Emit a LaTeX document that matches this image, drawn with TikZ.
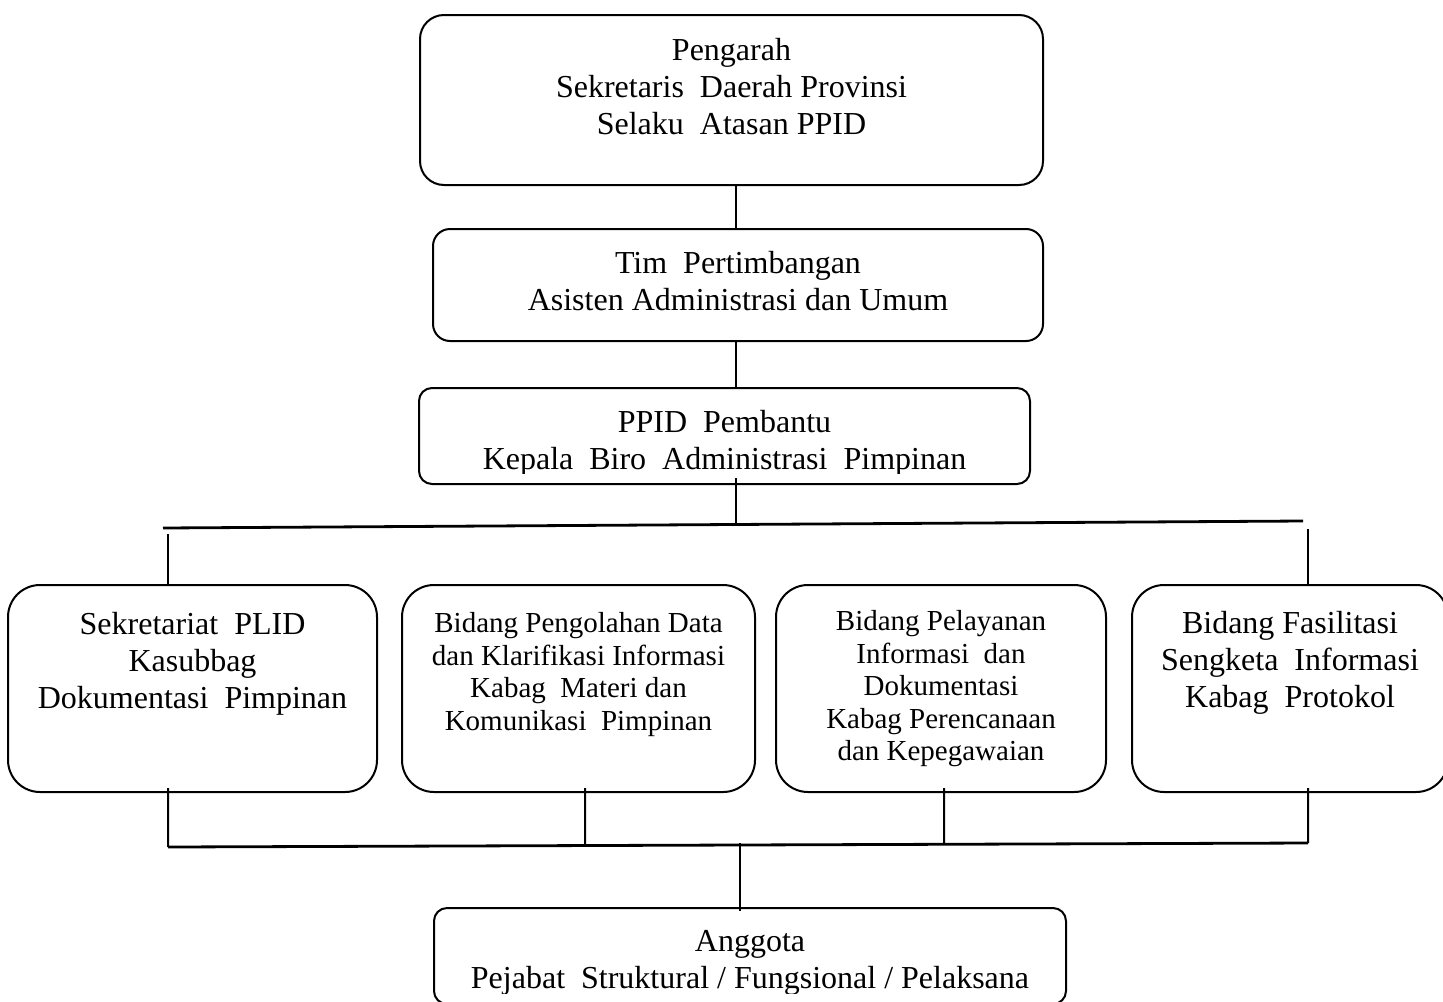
\documentclass[tikz,border=0pt]{standalone}
\usepackage{fontspec}
\setmainfont{Liberation Serif}
\usetikzlibrary{calc}

\begin{document}
\begin{tikzpicture}[x=0.5pt, y=-0.5pt,
        box/.style={draw=black, line width=1pt, inner sep=0pt},
        txt/.style={align=center, inner sep=0pt, anchor=north, font=\fontsize{16}{18.5}\selectfont},
        small/.style={font=\fontsize{14.5}{16.3}\selectfont},
        link/.style={black, line width=1pt},
        bus/.style={black, line width=1.4pt}]
        \useasboundingbox (0,0) rectangle (1443,1001);
        \node[box, minimum width=311.5pt, minimum height=85pt, rounded corners=12pt] (pengarah) at (731.5,100) {};
        \node[box, minimum width=305pt, minimum height=56pt, rounded corners=8.5pt] (tim) at (738,285) {};
        \node[box, minimum width=305.5pt, minimum height=48pt, rounded corners=6.5pt] (ppid) at (724.5,436) {};
        \node[box, minimum width=184.5pt, minimum height=103.5pt, rounded corners=16pt] (sek) at (192.5,688.5) {};
        \node[box, minimum width=176.5pt, minimum height=103.5pt, rounded corners=16pt] (olah) at (578.5,688.5) {};
        \node[box, minimum width=165pt, minimum height=103.5pt, rounded corners=16pt] (layan) at (941,688.5) {};
        \node[box, minimum width=158pt, minimum height=103.5pt, rounded corners=16pt] (fas) at (1290,688.5) {};
        \node[box, minimum width=316pt, minimum height=48pt, rounded corners=6.5pt] (anggota) at (750,956) {};
        \node[txt] (pengarahT) at (731.5,38) {Pengarah\\Sekretaris~ Daerah Provinsi\\Selaku~ Atasan PPID};
        \node[txt] (timT) at (738,251) {Tim~ Pertimbangan\\Asisten Administrasi dan Umum};
        \begin{scope}
            \clip (ppid.north west) rectangle ($(ppid.south east)+(0,-12)$);
            \node[txt] (ppidT) at (724.5,410) {PPID~ Pembantu\\Kepala~ Biro~ Administrasi~ Pimpinan};
        \end{scope}
        \node[txt] (sekT) at (192.5,612) {Sekretariat~ PLID\\Kasubbag\\Dokumentasi~ Pimpinan};
        \node[txt, small] (olahT) at (578.5,612) {Bidang Pengolahan Data\\dan Klarifikasi Informasi\\Kabag~ Materi dan\\Komunikasi~ Pimpinan};
        \node[txt, small] (layanT) at (941,610) {Bidang Pelayanan\\Informasi~ dan\\Dokumentasi\\Kabag Perencanaan\\dan Kepegawaian};
        \node[txt] (fasT) at (1290,611) {Bidang Fasilitasi\\Sengketa~ Informasi\\Kabag~ Protokol};
        \begin{scope}
            \clip (anggota.north west) rectangle ($(anggota.south east)+(0,-12)$);
            \node[txt] (anggotaT) at (750,930) {Anggota\\Pejabat~ Struktural / Fungsional / Pelaksana};
        \end{scope}
        \coordinate (spine) at (736,0);
        \coordinate (hubTop) at (736,523);
        \coordinate (busTL) at (163,528);
        \coordinate (busTR) at (1303,521);
        \coordinate (busBL) at (168,847);
        \coordinate (busBR) at (1308,843);
        \coordinate (hubBot) at (740,843);
        \draw[link] (spine |- pengarah.south) -- (spine |- tim.north);
        \draw[link] (spine |- tim.south) -- (spine |- ppid.north);
        \draw[link] ($(spine |- ppid.south)+(0,-7)$) -- (hubTop);
        \draw[bus] (busTL) -- (busTR);
        \draw[link] ($(sek.north)+(-24.5,-50)$) -- ($(sek.north)+(-24.5,0)$);
        \draw[link] ($(fas.north)+(18,-55)$) -- ($(fas.north)+(18,0)$);
        \foreach \b/\dx in {sek/-24.5, olah/6.5, layan/3, fas/18}
            \draw[link] ($(\b.south)+(\dx,-5)$) coordinate (d) -- ($(busBL)!(d)!(busBR)$);
        \draw[bus] (busBL) -- (busBR);
        \draw[link] (hubBot) -- ($(anggota.north)+(-10,4)$);
    \end{tikzpicture}
\end{document}
